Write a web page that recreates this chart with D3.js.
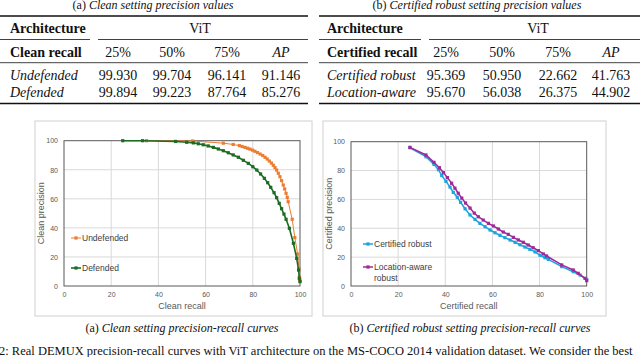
<!DOCTYPE html>
<html>
<head>
<meta charset="utf-8">
<script src="https://cdn.jsdelivr.net/npm/d3@7"></script>
<style>
  body { margin: 0; background: #fff; }
  svg { display: block; }
</style>
</head>
<body>
<svg id="root" width="640" height="357"></svg>
<script>
// table values
var recallCols = ["25%", "50%", "75%"];
var cleanRows = ["Undefended", "Defended"];
var cleanVals = [["99.930", "99.704", "96.141", "91.146"], ["99.894", "99.223", "87.764", "85.276"]];
var certRows = ["Certified robust", "Location-aware"];
var certVals = [["95.369", "50.950", "22.662", "41.763"], ["95.670", "56.038", "26.375", "44.902"]];

// curve values (recall, precision)
var undefRecall = [35, 54.5, 67.5, 71.7, 74.3, 75.5, 76.7, 77.8, 78.8, 79.9, 80.9, 82.0, 83.1, 84.2, 85.2, 86.1, 87.0, 87.9, 88.7, 89.4, 90.1, 90.8, 91.5, 92.2, 92.9, 93.5, 94.1, 94.6, 95.0, 96.7, 97.8, 99.0, 99.6, 99.8, 99.9, 100];
var undefPrec = [100, 99.8, 98.3, 97.4, 96.6, 96.0, 95.4, 94.8, 94.2, 93.5, 92.7, 91.8, 90.8, 89.8, 88.6, 87.4, 86.0, 84.6, 83.1, 81.5, 79.8, 77.6, 75.2, 72.5, 69.5, 66.8, 63.8, 61.0, 58.0, 45.9, 33.3, 22.0, 12.0, 6.5, 4.5, 3.5];
var defRecall = [24.9, 33.3, 47.3, 52.0, 54.8, 56.9, 59.0, 61.1, 63.3, 65.4, 67.5, 69.6, 71.7, 73.9, 76.0, 78.1, 80.0, 81.7, 83.3, 84.9, 86.3, 87.6, 89.0, 90.1, 91.2, 92.2, 93.2, 94.1, 95.5, 97.2, 98.6, 99.4, 99.7, 100];
var defPrec = [100, 100, 99.5, 98.9, 98.5, 97.9, 97.2, 96.4, 95.4, 94.3, 93.1, 91.7, 90.2, 88.6, 86.5, 84.4, 82.1, 79.8, 77.1, 74.1, 71.1, 67.9, 64.2, 60.8, 56.9, 53.2, 49.5, 45.9, 39.7, 29.4, 19.0, 11.0, 5.3, 3.0];
var crRecall = [25, 31.8, 35.2, 37.1, 38.5, 40.3, 42.0, 43.4, 45.1, 46.5, 48.4, 50.5, 52.6, 54.7, 56.9, 59.0, 61.1, 63.2, 65.3, 67.5, 69.6, 71.7, 73.8, 75.9, 78.1, 80.2, 82.3, 83.7, 89.4, 94.3, 97.2, 100];
var crPrec = [95.8, 89.6, 84.3, 80.6, 76.5, 72.5, 68.6, 64.9, 61.5, 58.0, 53.5, 49.2, 46.2, 43.4, 41.1, 38.8, 36.9, 35.1, 33.5, 31.9, 30.3, 28.6, 27.0, 25.4, 23.6, 21.3, 19.6, 18.5, 13.4, 9.9, 7.6, 4.6];
var laRecall = [25, 31.8, 35.2, 37.5, 39.2, 40.9, 42.7, 44.1, 45.5, 47.0, 48.6, 50.5, 52.3, 54.0, 56.1, 58.3, 60.4, 62.5, 64.6, 66.7, 68.9, 71.0, 73.1, 75.2, 77.3, 79.5, 81.6, 83.0, 89.4, 94.3, 96.4, 99.3, 100];
var laPrec = [96.1, 90.8, 85.7, 82.0, 78.6, 75.1, 71.2, 67.8, 64.3, 60.9, 57.5, 54.0, 50.5, 48.0, 45.7, 43.4, 41.6, 39.5, 37.4, 35.8, 33.7, 31.9, 30.3, 28.4, 26.5, 24.5, 22.2, 20.8, 14.6, 11.1, 8.8, 5.3, 3.7];
var axisTicks = [0, 20, 40, 60, 80, 100];

var SERIF = "'Liberation Serif', 'Times New Roman', 'DejaVu Serif', serif";
var SANS = "'Liberation Sans', Arial, sans-serif";

var svg = d3.select("#root");

// serif text helper
function stext(g, x, y, size, t) {
  return g.append("text").attr("x", x).attr("y", y)
      .style("font-family", SERIF).style("font-size", size + "px").attr("fill", "#111").text(t);
}

// ---------- tables ----------
function drawTable(cfg) {
  var g = svg.append("g");
  var cap = stext(g, cfg.capX, 9, 12, cfg.tag + " ").attr("text-anchor", "middle");
  cap.append("tspan").style("font-style", "italic").text(cfg.caption);

  var rule = function(x1, x2, y, w) {
    g.append("line").attr("x1", x1).attr("x2", x2).attr("y1", y).attr("y2", y)
        .attr("stroke", "#111").attr("stroke-width", w);
  };
  rule(cfg.x0, cfg.x1, 16, 1.4);
  rule(cfg.x0, cfg.split, 39.5, 0.8);
  rule(cfg.split + 8, cfg.x1, 39.5, 0.8);
  rule(cfg.x0, cfg.x1, 62.7, 0.8);
  rule(cfg.x0, cfg.x1, 103.5, 1.4);

  stext(g, cfg.labelX, 33, 14, "Architecture").style("font-weight", "bold");
  stext(g, cfg.vitX, 33, 14, "ViT").attr("text-anchor", "middle");
  stext(g, cfg.labelX, 57, 14, cfg.recallLabel).style("font-weight", "bold");

  recallCols.forEach(function(c, i) {
    stext(g, cfg.cols[i], 57, 14, c).attr("text-anchor", "middle");
  });
  stext(g, cfg.cols[3], 57, 14, "AP").attr("text-anchor", "middle").style("font-style", "italic");

  var rowY = [80, 97];
  cfg.rows.forEach(function(r, j) {
    stext(g, cfg.labelX, rowY[j], 14, r).style("font-style", "italic");
    cfg.vals[j].forEach(function(v, i) {
      stext(g, cfg.cols[i], rowY[j], 14, v).attr("text-anchor", "middle");
    });
  });
}

drawTable({
  tag: "(a)", caption: "Clean setting precision values", capX: 153,
  x0: 0, x1: 308, split: 90, labelX: 10, vitX: 200,
  recallLabel: "Clean recall", cols: [118, 172, 227, 281],
  rows: cleanRows, vals: cleanVals
});
drawTable({
  tag: "(b)", caption: "Certified robust setting precision values", capX: 477,
  x0: 319, x1: 640, split: 421, labelX: 327, vitX: 538,
  recallLabel: "Certified recall", cols: [446, 502, 558, 611],
  rows: certRows, vals: certVals
});

// ---------- charts ----------
function drawChart(cfg) {
  var g = svg.append("g");
  g.append("rect").attr("x", cfg.box[0]).attr("y", 121)
      .attr("width", cfg.box[1] - cfg.box[0]).attr("height", 195)
      .attr("fill", "#fff").attr("stroke", "#d0d0d0").attr("stroke-width", 1);

  var x = d3.scaleLinear().domain([0, 100]).range(cfg.xr);
  var y = d3.scaleLinear().domain([0, 100]).range([286, cfg.top]);

  // grid
  g.selectAll(".vg").data(axisTicks.slice(1, -1)).enter().append("line")
      .attr("x1", function(d) { return x(d); }).attr("x2", function(d) { return x(d); })
      .attr("y1", y(0)).attr("y2", y(100)).attr("stroke", "#d9d9d9").attr("stroke-width", 1);
  g.selectAll(".hg").data(axisTicks.slice(1, -1)).enter().append("line")
      .attr("y1", function(d) { return y(d); }).attr("y2", function(d) { return y(d); })
      .attr("x1", x(0)).attr("x2", x(100)).attr("stroke", "#d9d9d9").attr("stroke-width", 1);

  // frame
  g.append("rect").attr("x", x(0)).attr("y", y(100))
      .attr("width", x(100) - x(0)).attr("height", y(0) - y(100))
      .attr("fill", "none").attr("stroke", "#595959").attr("stroke-width", 1);

  // axes
  var xa = g.append("g").attr("transform", "translate(0," + (y(0) + 4) + ")")
      .call(d3.axisBottom(x).tickValues(axisTicks).tickSize(0).tickPadding(2));
  var ya = g.append("g").attr("transform", "translate(" + (x(0) - 6) + ",0)")
      .call(d3.axisLeft(y).tickValues(axisTicks).tickSize(0).tickPadding(0));
  [xa, ya].forEach(function(a) {
    a.select(".domain").remove();
    a.selectAll("text").style("font-size", "7px").attr("fill", "#595959").style("font-family", SANS);
  });

  g.append("text").attr("x", (x(0) + x(100)) / 2).attr("y", 309).attr("text-anchor", "middle")
      .style("font-family", SANS).style("font-size", "9px").attr("fill", "#595959").text(cfg.xTitle);
  g.append("text").attr("transform", "translate(" + cfg.yTitleX + "," + ((y(0) + y(100)) / 2) + ") rotate(-90)")
      .attr("text-anchor", "middle").style("font-family", SANS).style("font-size", "9px")
      .attr("fill", "#595959").text(cfg.yTitle);

  var line = d3.line().x(function(d) { return x(d[0]); }).y(function(d) { return y(d[1]); });
  cfg.series.forEach(function(s) {
    var pts = d3.zip(s.rx, s.py);
    g.append("path").datum(pts).attr("d", line).attr("fill", "none")
        .attr("stroke", s.color).attr("stroke-width", s.w);
    g.selectAll(null).data(pts).enter().append("rect")
        .attr("x", function(d) { return x(d[0]) - 1.6; })
        .attr("y", function(d) { return y(d[1]) - 1.6; })
        .attr("width", 3.2).attr("height", 3.2).attr("fill", s.color);

    // legend entry
    var ly = s.legendY;
    g.append("line").attr("x1", cfg.legX).attr("x2", cfg.legX + 10).attr("y1", ly).attr("y2", ly)
        .attr("stroke", s.color).attr("stroke-width", s.w);
    g.append("rect").attr("x", cfg.legX + 3.4).attr("y", ly - 1.6).attr("width", 3.2).attr("height", 3.2)
        .attr("fill", s.color);
    s.label.forEach(function(t, k) {
      g.append("text").attr("x", cfg.legX + 11).attr("y", ly + 3 + k * 10.5)
          .style("font-family", SANS).style("font-size", "8.5px").attr("fill", "#404040").text(t);
    });
  });

  var cap = stext(svg, cfg.capX, 332, 12, cfg.tag + " ").attr("text-anchor", "middle");
  cap.append("tspan").style("font-style", "italic").text(cfg.caption);
}

drawChart({
  box: [35, 312], xr: [64, 300], top: 140.7, yTitleX: 44,
  xTitle: "Clean recall", yTitle: "Clean precision", legX: 71,
  tag: "(a)", caption: "Clean setting precision-recall curves", capX: 182,
  series: [
    { rx: undefRecall, py: undefPrec, color: "#ed7d31", w: 1, legendY: 238, label: ["Undefended"] },
    { rx: defRecall, py: defPrec, color: "#1e6b23", w: 1.6, legendY: 268, label: ["Defended"] }
  ]
});
drawChart({
  box: [323, 606], xr: [351, 586.7], top: 141.7, yTitleX: 332,
  xTitle: "Certified recall", yTitle: "Certified precision", legX: 363,
  tag: "(b)", caption: "Certified robust setting precision-recall curves", capX: 470,
  series: [
    { rx: crRecall, py: crPrec, color: "#1ba3dd", w: 1.5, legendY: 244, label: ["Certified robust"] },
    { rx: laRecall, py: laPrec, color: "#a0289a", w: 1.5, legendY: 267, label: ["Location-aware", "robust"] }
  ]
});

stext(svg, -1, 355, 12.5,
  "2: Real DEMUX precision-recall curves with ViT architecture on the MS-COCO 2014 validation dataset. We consider the best");
</script>
</body>
</html>
